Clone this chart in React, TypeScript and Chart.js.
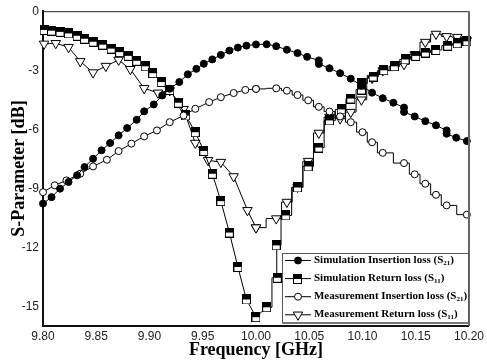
import React, { useEffect, useRef } from 'react';
import { Chart, registerables } from 'chart.js';

Chart.register(...registerables);

// ---- data ----
const X_TICKS = [9.8, 9.85, 9.9, 9.95, 10.0, 10.05, 10.1, 10.15, 10.2];
const Y_TICKS = [0, -3, -6, -9, -12, -15];

const SIM_S21_F = [9.800, 9.808, 9.816, 9.824, 9.832, 9.839, 9.847, 9.855, 9.863, 9.871, 9.879, 9.888, 9.895, 9.904, 9.912, 9.919, 9.928, 9.936, 9.944, 9.951, 9.959, 9.967, 9.975, 9.983, 9.991, 10.000, 10.010, 10.019, 10.029, 10.039, 10.048, 10.059, 10.059, 10.069, 10.079, 10.089, 10.099, 10.109, 10.119, 10.129, 10.139, 10.139, 10.149, 10.159, 10.169, 10.179, 10.179, 10.188, 10.198];
const SIM_S21_DB = [-9.78, -9.45, -9.02, -8.68, -8.34, -7.92, -7.50, -7.07, -6.70, -6.31, -5.94, -5.52, -5.09, -4.74, -4.28, -3.94, -3.60, -3.21, -2.93, -2.67, -2.45, -2.22, -2.00, -1.85, -1.75, -1.69, -1.68, -1.78, -1.96, -2.13, -2.32, -2.50, -2.68, -2.90, -3.15, -3.43, -3.78, -4.14, -4.42, -4.65, -4.90, -5.12, -5.35, -5.59, -5.80, -6.06, -6.23, -6.43, -6.60];

const SIM_S11_F = [9.801, 9.808, 9.816, 9.824, 9.832, 9.839, 9.847, 9.856, 9.864, 9.872, 9.880, 9.888, 9.896, 9.903, 9.911, 9.919, 9.927, 9.934, 9.943, 9.951, 9.959, 9.967, 9.975, 9.983, 9.991, 10.000, 10.010, 10.020, 10.019, 10.028, 10.039, 10.049, 10.059, 10.069, 10.080, 10.089, 10.099, 10.099, 10.110, 10.120, 10.130, 10.140, 10.150, 10.159, 10.169, 10.180, 10.189, 10.198];
const SIM_S11_DB = [-0.95, -0.99, -1.05, -1.13, -1.25, -1.40, -1.55, -1.70, -1.90, -2.08, -2.27, -2.52, -2.80, -3.15, -3.60, -4.00, -4.65, -5.30, -6.15, -7.10, -8.26, -9.65, -11.25, -13.00, -14.65, -15.55, -15.05, -13.55, -11.90, -10.38, -8.96, -7.89, -6.93, -5.55, -4.99, -4.44, -3.98, -3.67, -3.32, -3.00, -2.80, -2.45, -2.27, -2.10, -1.97, -1.75, -1.63, -1.53];

const MEAS_S21_F = [9.800, 9.811, 9.822, 9.835, 9.847, 9.860, 9.871, 9.883, 9.895, 9.907, 9.919, 9.932, 9.943, 9.956, 9.967, 9.979, 9.990, 10.000, 10.019, 10.029, 10.039, 10.049, 10.059, 10.069, 10.079, 10.089, 10.100, 10.109, 10.119, 10.139, 10.149, 10.159, 10.169, 10.179, 10.198];
const MEAS_S21_DB = [-9.20, -8.85, -8.60, -8.26, -7.89, -7.55, -7.11, -6.73, -6.36, -6.06, -5.64, -5.30, -4.96, -4.62, -4.37, -4.16, -4.00, -3.95, -3.92, -4.04, -4.26, -4.53, -4.86, -5.10, -5.35, -5.64, -6.15, -6.66, -7.20, -7.72, -8.29, -8.77, -9.33, -9.87, -10.34];

const MEAS_S11_F = [9.801, 9.812, 9.824, 9.835, 9.847, 9.859, 9.871, 9.882, 9.895, 9.908, 9.919, 9.932, 9.943, 9.955, 9.967, 9.979, 9.992, 10.000, 10.019, 10.029, 10.039, 10.049, 10.059, 10.069, 10.079, 10.089, 10.099, 10.109, 10.119, 10.139, 10.149, 10.159, 10.169, 10.179, 10.189, 10.198];
const MEAS_S11_DB = [-1.66, -1.63, -1.83, -2.55, -3.12, -2.79, -2.48, -2.95, -3.92, -4.15, -4.03, -4.98, -6.70, -7.58, -7.67, -8.40, -10.12, -11.00, -10.54, -9.70, -8.94, -7.62, -6.19, -5.38, -5.46, -5.13, -4.50, -3.40, -3.02, -2.70, -2.20, -1.57, -1.16, -1.28, -1.32, -1.48];

// frequency from which each trace is drawn as a staircase (null = never)
const STEP_FROM = { simS21: null as number | null, simS11: 10.01, measS21: 10.0, measS11: 10.0 };

const LEGEND_MAIN = [
  'Simulation Insertion loss (S',
  'Simulation Return loss (S',
  'Measurement Insertion loss (S',
  'Measurement Return loss (S',
];
const LEGEND_SUB = ['21', '11', '21', '11'];

const X_TITLE = 'Frequency [GHz]';
const Y_TITLE = 'S-Parameter [dB]';

// ---- helpers ----
function pts(f: number[], db: number[]) {
  return f.map((x, i) => ({ x, y: db[i] }));
}
function splitAt(f: number[], db: number[], from: number | null) {
  const all = pts(f, db);
  if (from === null) return [all, [] as { x: number; y: number }[]];
  const idx = f.findIndex((v) => v >= from - 1e-9);
  return [all.slice(0, idx + 1), all.slice(idx)];
}

function makeHalfSquare(): HTMLCanvasElement {
  const c = document.createElement('canvas');
  c.width = 9;
  c.height = 10;
  const g = c.getContext('2d')!;
  g.fillStyle = '#fff';
  g.fillRect(0, 0, 9, 10);
  g.fillStyle = '#000';
  g.fillRect(0, 0, 9, 5);
  g.strokeStyle = '#000';
  g.lineWidth = 1;
  g.strokeRect(0.5, 0.5, 8, 9);
  return c;
}

const SANS = '"Liberation Sans", Arial, sans-serif';
const SERIF = '"Liberation Serif", "Times New Roman", serif';

export default function App() {
  const ref = useRef<HTMLCanvasElement | null>(null);

  useEffect(() => {
    document.body.style.margin = '0';
    const canvas = ref.current!;
    const half = makeHalfSquare();

    const markers = [
      { style: 'circle', r: 3.5, fill: '#000', rot: 0 },
      { style: half as any, r: 4.5, fill: '#000', rot: 0 },
      { style: 'circle', r: 3.5, fill: '#fff', rot: 0 },
      { style: 'triangle', r: 5.5, fill: '#fff', rot: 180 },
    ];

    const series = [
      { f: SIM_S21_F, db: SIM_S21_DB, from: STEP_FROM.simS21, m: markers[0] },
      { f: MEAS_S21_F, db: MEAS_S21_DB, from: STEP_FROM.measS21, m: markers[2] },
      { f: SIM_S11_F, db: SIM_S11_DB, from: STEP_FROM.simS11, m: markers[1] },
      { f: MEAS_S11_F, db: MEAS_S11_DB, from: STEP_FROM.measS11, m: markers[3] },
    ];

    const datasets: any[] = [];
    series.forEach((s) => {
      const [a, b] = splitAt(s.f, s.db, s.from);
      const common = {
        borderColor: '#000',
        borderWidth: 1,
        tension: 0,
        pointStyle: s.m.style,
        pointRadius: s.m.r,
        pointRotation: s.m.rot,
        pointBackgroundColor: s.m.fill,
        pointBorderColor: '#000',
        pointBorderWidth: 1,
        pointHoverRadius: s.m.r,
        clip: 8,
      };
      datasets.push({ ...common, data: a, stepped: false });
      if (b.length) datasets.push({ ...common, data: b, stepped: 'middle' });
    });

    const framePlugin = {
      id: 'frame',
      afterDatasetsDraw(chart: any) {
        const { ctx, chartArea: a } = chart;
        ctx.save();
        ctx.strokeStyle = '#222';
        ctx.lineWidth = 1;
        ctx.beginPath();
        ctx.moveTo(a.left, a.top + 0.5);
        ctx.lineTo(a.right, a.top + 0.5);
        ctx.stroke();
        ctx.strokeStyle = '#666';
        ctx.lineWidth = 2;
        ctx.beginPath();
        ctx.moveTo(a.right, a.top);
        ctx.lineTo(a.right, a.bottom);
        ctx.stroke();
        ctx.restore();
      },
    };

    const drawMarker = (ctx: CanvasRenderingContext2D, m: any, x: number, y: number) => {
      ctx.save();
      ctx.lineWidth = 1;
      ctx.strokeStyle = '#000';
      if (m.style === 'circle') {
        ctx.beginPath();
        ctx.arc(x, y, m.r, 0, Math.PI * 2);
        ctx.fillStyle = m.fill;
        ctx.fill();
        ctx.stroke();
      } else if (m.style === 'triangle') {
        const r = m.r;
        ctx.beginPath();
        ctx.moveTo(x - r * 0.866, y - r * 0.5);
        ctx.lineTo(x + r * 0.866, y - r * 0.5);
        ctx.lineTo(x, y + r);
        ctx.closePath();
        ctx.fillStyle = m.fill;
        ctx.fill();
        ctx.stroke();
      } else {
        const img = m.style as HTMLCanvasElement;
        ctx.drawImage(img, Math.round(x - img.width / 2), Math.round(y - img.height / 2));
      }
      ctx.restore();
    };

    const legendPlugin = {
      id: 'boxLegend',
      afterDraw(chart: any) {
        const { ctx, chartArea: a } = chart;
        const l = a.right - 187;
        const t = a.bottom - 73;
        const r = a.right;
        const b = a.bottom - 3;
        ctx.save();
        ctx.fillStyle = '#fff';
        ctx.fillRect(l, t, r - l, b - t);
        ctx.strokeStyle = '#555';
        ctx.lineWidth = 1;
        ctx.strokeRect(l + 0.5, t + 0.5, r - l - 1, b - t - 1);
        ctx.lineWidth = 2;
        ctx.strokeStyle = '#777';
        ctx.beginPath();
        ctx.moveTo(l, b);
        ctx.lineTo(r, b);
        ctx.stroke();
        const order = [0, 1, 2, 3];
        order.forEach((i) => {
          const y = t + 7 + i * 18.1;
          ctx.strokeStyle = '#000';
          ctx.lineWidth = 1;
          ctx.beginPath();
          ctx.moveTo(l + 3, y + 0.5);
          ctx.lineTo(l + 29, y + 0.5);
          ctx.stroke();
          drawMarker(ctx, markers[i], l + 16, y + 0.5);
          ctx.fillStyle = '#000';
          ctx.textBaseline = 'middle';
          ctx.textAlign = 'left';
          ctx.font = `bold 11px ${SERIF}`;
          let x = l + 32;
          ctx.fillText(LEGEND_MAIN[i], x, y);
          x += ctx.measureText(LEGEND_MAIN[i]).width;
          ctx.font = `bold 7px ${SERIF}`;
          ctx.fillText(LEGEND_SUB[i], x, y + 3);
          x += ctx.measureText(LEGEND_SUB[i]).width;
          ctx.font = `bold 11px ${SERIF}`;
          ctx.fillText(')', x, y);
        });
        ctx.restore();
      },
    };

    const chart = new Chart(canvas, {
      type: 'line',
      data: { datasets },
      options: {
        animation: false,
        responsive: false,
        devicePixelRatio: 1,
        parsing: false as any,
        normalized: true,
        layout: { padding: { left: 0, top: 11, right: 16, bottom: 0 } },
        plugins: { legend: { display: false }, tooltip: { enabled: false } },
        scales: {
          x: {
            type: 'linear',
            min: 9.8,
            max: 10.2,
            grid: { display: false, drawTicks: false },
            border: { display: true, color: '#111', width: 2 },
            ticks: {
              font: { family: SANS, size: 12 },
              color: '#222',
              padding: 3,
              autoSkip: false,
              maxRotation: 0,
              callback: (v: any) => Number(v).toFixed(2),
            },
            afterBuildTicks: (s: any) => {
              s.ticks = X_TICKS.map((v) => ({ value: v }));
            },
            afterFit: (s: any) => {
              s.height = 35;
            },
            title: {
              display: true,
              text: X_TITLE,
              color: '#000',
              font: { family: SERIF, size: 18, weight: 'bold' },
              padding: { top: 0, bottom: 0 },
            },
          },
          y: {
            type: 'linear',
            min: -16,
            max: 0,
            grid: { display: false, drawTicks: false },
            border: { display: true, color: '#111', width: 2 },
            ticks: {
              font: { family: SANS, size: 12 },
              color: '#222',
              padding: 4,
              autoSkip: false,
              callback: (v: any) => String(v),
            },
            afterBuildTicks: (s: any) => {
              s.ticks = Y_TICKS.map((v) => ({ value: v }));
            },
            afterFit: (s: any) => {
              s.width = 43;
            },
            title: {
              display: true,
              text: Y_TITLE,
              color: '#000',
              font: { family: SERIF, size: 18, weight: 'bold' },
              padding: { top: 9, bottom: 0 },
            },
          },
        },
      } as any,
      plugins: [framePlugin, legendPlugin],
    });
    return () => chart.destroy();
  }, []);

  return (
    <div style={{ position: 'absolute', left: 0, top: 0, width: 487, height: 361, background: '#fff' }}>
      <canvas ref={ref} width={487} height={361} style={{ display: 'block' }} />
    </div>
  );
}
